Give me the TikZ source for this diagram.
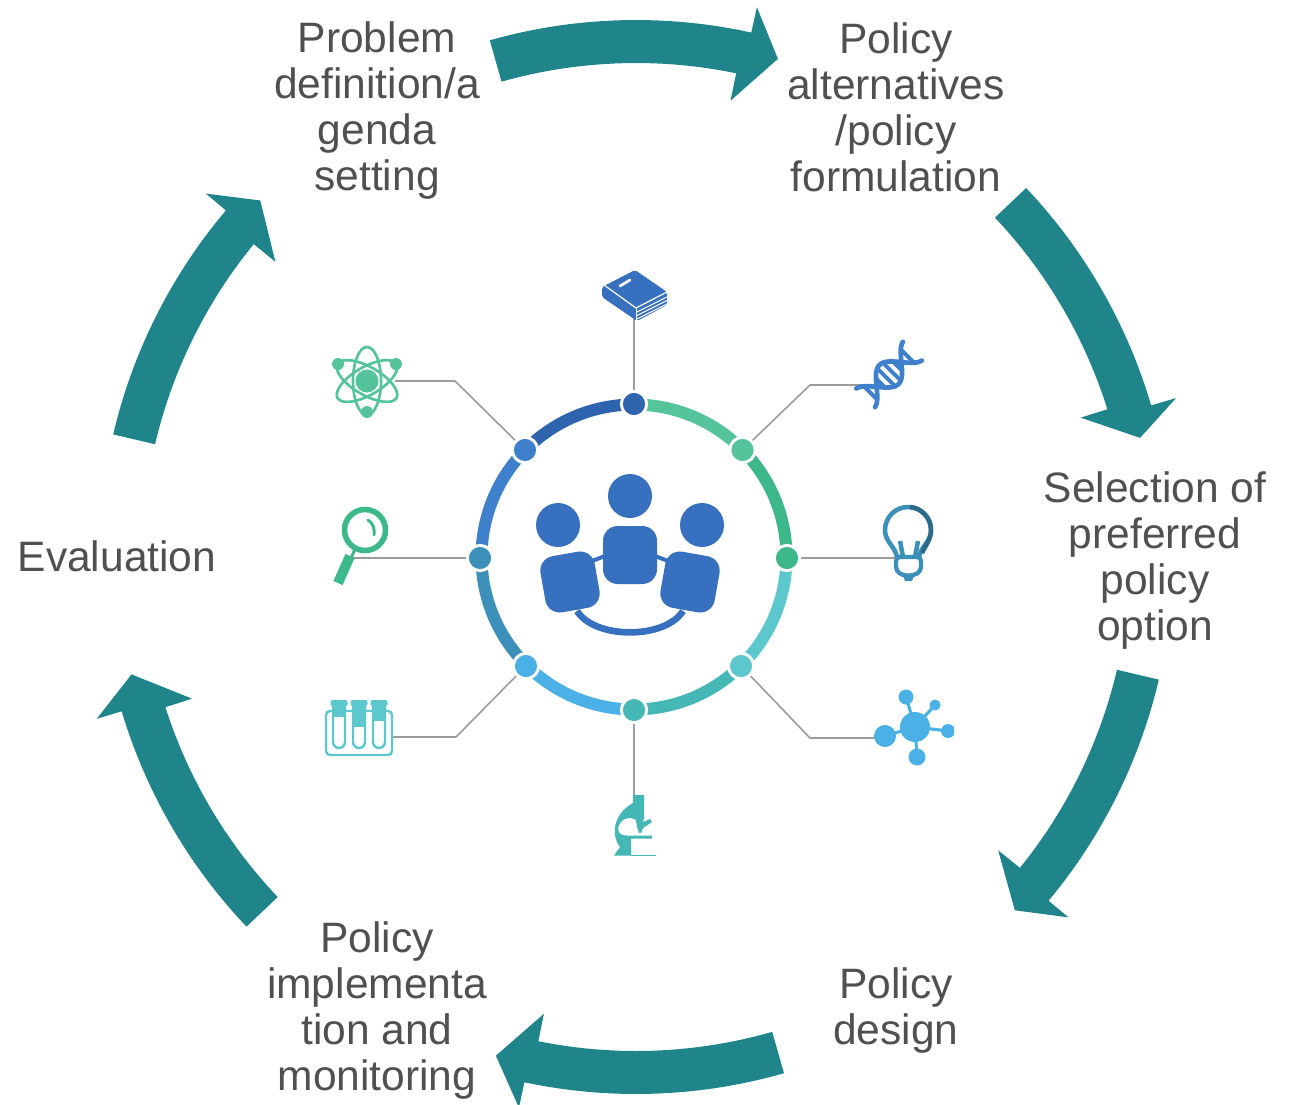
\documentclass[tikz,border=0pt]{standalone}
\usepackage{fontspec}
\setmainfont{Liberation Sans}
\definecolor{arrowteal}{HTML}{1F858B}
\definecolor{txt}{HTML}{505050}
\definecolor{cA}{HTML}{2E63AE}
\definecolor{cB}{HTML}{55C49A}
\definecolor{cC}{HTML}{3CB88A}
\definecolor{cD}{HTML}{5CC8CE}
\definecolor{cE}{HTML}{45B7B5}
\definecolor{cF}{HTML}{4AB0E6}
\definecolor{cG}{HTML}{3B8FB8}
\definecolor{cH}{HTML}{3F80CC}
\definecolor{ppl}{HTML}{3870C0}
\definecolor{conn}{HTML}{9C9C9C}
\tikzset{
  lab/.style={align=center,text=txt,font=\fontsize{31.9}{34.6}\selectfont,inner sep=0pt},
  dot/.style={circle,minimum size=19pt,inner sep=0pt,draw=white,line width=2.2pt},
  connector/.style={draw=conn,line width=1.2pt},
  ringseg/.style={line width=9pt},
}
\begin{document}
\begin{tikzpicture}[x=0.75pt,y=-0.75pt]
\useasboundingbox (0,0) rectangle (1299,1104);
% block arrows
\foreach \a/\b/\c/\d in {-15.8/12.4/11.7/15.9, 46.6/73.6/72.6/76.7, 103.2/129.8/129/133, 164/192/191.4/195.7, 226.5/253.3/252.3/256.9, 283.2/310.2/309.3/313.5}{
  \fill[arrowteal] plot[domain=\a:\b,samples=30] ({636+537*sin(\x)},{557-537*cos(\x)})
    -- ({636+563*sin(\b)},{557-563*cos(\b)})
    -- ({636+518*sin(\d)},{557-518*cos(\d)})
    -- ({636+466*sin(\c)},{557-466*cos(\c)})
    -- plot[domain=\c:\a,samples=30] ({636+494*sin(\x)},{557-494*cos(\x)}) -- cycle;
}
% labels
\node[lab] (t1) at (377,110.5) {Problem\\definition/a\\genda\\setting};
\node[lab] (t2) at (896,107) {Policy\\alternatives\\/policy\\formulation};
\node[lab] (t3) at (1155,560.5) {Selection of\\preferred\\policy\\option};
\node[lab] (t4) at (896,1010.5) {Policy\\design};
\node[lab] (t5) at (377,1010.5) {Policy\\implementa\\tion and\\monitoring};
\node[lab] (t6) at (117,556) {Evaluation};
% ring
\foreach \s/\e/\c in {-45/0/cA,-90/-45/cH,-135/-90/cG,-180/-135/cF,135/180/cE,90/135/cD,45/90/cC,0/45/cB}{
  \draw[ringseg,\c] plot[domain=\s:\e,samples=25] ({634+152.5*sin(\x)},{557-152.5*cos(\x)});
}
% icon anchors and bends
\coordinate (ibook) at (634,318);
\coordinate (idna) at (862,385);
\coordinate (ibulb) at (896,558);
\coordinate (imol) at (880,738);
\coordinate (imic) at (634,800);
\coordinate (itube) at (392,737);
\coordinate (imag) at (353,558);
\coordinate (iatom) at (395,381);
\coordinate (b2) at (810,385);
\coordinate (b4) at (810,738);
\coordinate (b6) at (456,737);
\coordinate (b8) at (455,381);
\path
 node[dot,fill=cA] (d1) at (634,404) {}
 node[dot,fill=cB] (d2) at (742.5,450) {}
 node[dot,fill=cC] (d3) at (787,558) {}
 node[dot,fill=cD] (d4) at (741,666) {}
 node[dot,fill=cE] (d5) at (634,710) {}
 node[dot,fill=cF] (d6) at (526,666) {}
 node[dot,fill=cG] (d7) at (480,558) {}
 node[dot,fill=cH] (d8) at (525,450) {};
\draw[connector] (d1) -- (ibook);
\draw[connector] (d2) -- (b2) -- (idna);
\draw[connector] (d3) -- (ibulb);
\draw[connector] (d4) -- (b4) -- (imol);
\draw[connector] (d5) -- (imic);
\draw[connector] (d6) -- (b6) -- (itube);
\draw[connector] (d7) -- (imag);
\draw[connector] (d8) -- (b8) -- (iatom);
% people
\fill[ppl] (630,496) circle[radius=22];
\fill[ppl] (558,525) circle[radius=22];
\fill[ppl] (702,525) circle[radius=22];
\draw[ppl,line width=3pt] (588,562.5) -- (605,556) (655,556) -- (672,562.5);
\draw[ppl,line width=5pt] (577,611) .. controls (595,639.5) and (665,639.5) .. (683,611);
\fill[ppl,rounded corners=11pt] (603,526) rectangle (657,584);
\begin{scope}[shift={(570,582)},rotate=10]
 \fill[ppl,rounded corners=11pt] (-27.5,-28.5) rectangle (27.5,28.5);
\end{scope}
\begin{scope}[shift={(690,582)},rotate=-10]
 \fill[ppl,rounded corners=11pt] (-27.5,-28.5) rectangle (27.5,28.5);
\end{scope}
% book
\fill[ppl,rounded corners=1.5pt] (602,287) -- (635,270) -- (667,292) -- (667,305) -- (637,321) -- (602,297) -- cycle;
\draw[white,line width=0.9pt] (604,285) -- (636,308) -- (667,292);
\draw[white,line width=0.7pt] (637,312) -- (667,297) (637,315.5) -- (667,300.5) (637,319) -- (667,304);
\draw[white,line width=0.7pt] (636,308) -- (636,321);
\draw[white,line width=2pt,line cap=round] (620,286) -- (630,280);
% DNA
\begin{scope}[shift={(889,374.5)},rotate=45,cH,line width=3.5pt,line cap=round]
 \foreach \y in {-12,-4,4,12,-26,26}{\draw[line width=3pt,line cap=butt] (\y,{-13.5*cos(\y*5.14)}) -- (\y,{13.5*cos(\y*5.14)});}
 \draw plot[domain=-33:33,samples=40] (\x,{13.5*cos(\x*5.14)});
 \draw plot[domain=-33:33,samples=40] (\x,{-13.5*cos(\x*5.14)});
\end{scope}
% bulb
\draw[cG,line width=3.4pt] (897,557) .. controls (895,546) and (885,542) .. (885,530)
   arc[start angle=180,end angle=360,radius=23] .. controls (931,542) and (921,546) .. (919,557);
\draw[cG!75!black,line width=3.4pt] (910,507) arc[start angle=275,end angle=360,radius=23] .. controls (931,540) and (925,546) .. (922,553);
\draw[cG,line width=3.4pt] (900,541) -- (903,557) (918,541) -- (915,557);
\draw[cG,line width=3.2pt,rounded corners=3pt] (896,557) -- (896,571) -- (903,575.5) -- (914,575.5) -- (921,571) -- (921,557) -- cycle;
\fill[cG] (903,576) -- (914,576) -- (912,581) -- (905,581) -- cycle;
% molecule
\begin{scope}
 \clip (860,680) rectangle (954,770);
 \draw[cF,line width=2.3pt] (915,727) -- (885,736) (915,727) -- (906,697) (915,727) -- (935,705) (915,727) -- (948,731) (915,727) -- (917,757);
 \fill[cF] (915,727) circle[radius=15] (885,736) circle[radius=11] (906,697) circle[radius=7.5] (935,705) circle[radius=5.5] (948,731) circle[radius=7] (917,757) circle[radius=8.5];
\end{scope}
% microscope
\fill[cE] (633,795) -- (644,795) -- (644,818) -- (643,822) -- (650,819) -- (652,822) -- (646,826) -- (643,828) -- (641,833) -- (639,833) -- (637,827) -- (636,820)
  .. controls (628,815) and (619,820) .. (618,829) .. controls (618,833) and (622,836) .. (627,835.5)
  -- (652,835.5) -- (652,838.5) -- (631,838.5) -- (631,855.5) -- (614,855.5) -- (620,847)
  .. controls (612,838) and (611,815) .. (633,803) -- cycle;
\draw[cE,line width=1pt] (631,855.3) -- (656,855.3);
% tubes
\draw[cD,line width=1.8pt,rounded corners=3pt] (326,711) rectangle (392,755);
\foreach \x/\f in {339/717,359/727,379/721}{
  \fill[cD] (\x-6.5,706) rectangle (\x+6.5,\f);
  \fill[cD,rounded corners=1.5pt] (\x-8.5,700) rectangle (\x+8.5,706);
  \draw[cD,line width=1.8pt] (\x-6,706) -- (\x-6,742) arc[start angle=180,end angle=0,radius=6] -- (\x+6,706);
}
% magnifier
\begin{scope}
 \clip (320,500) rectangle (388,590);
 \draw[cC,line width=4.2pt] (365,530) circle[radius=20.5];
\end{scope}
\draw[cC,line width=2.2pt,line cap=round] (368,520) .. controls (373,523) and (375,529) .. (374,535);
\draw[cC,line width=2.2pt] (355,549) -- (351,558);
\draw[cC,line width=7.5pt] (350,556) -- (338,583);
% atom
\begin{scope}
 \clip (325,340) rectangle (410,418);
 \foreach \r in {90,30,-30}{
  \draw[cB,line width=2pt] (367,381) ellipse[x radius=34,y radius=14,rotate=\r];
 }
 \fill[cB] (367,381) circle[radius=11.5] (338,364) circle[radius=6] (396,364) circle[radius=6] (367,412) circle[radius=6];
\end{scope}
\end{tikzpicture}
\end{document}
